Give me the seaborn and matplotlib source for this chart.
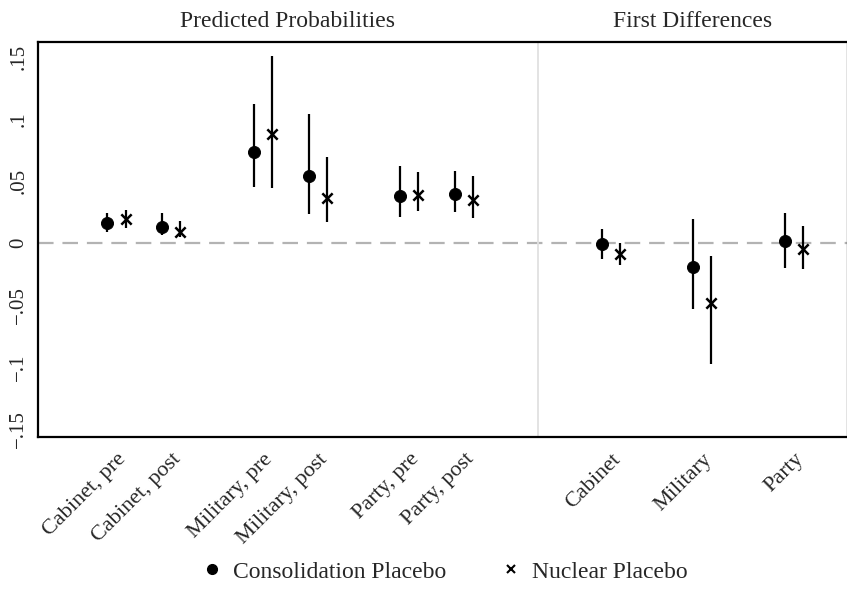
import numpy as np
import pandas as pd
import matplotlib
matplotlib.use("Agg")
import matplotlib.pyplot as plt
from matplotlib.lines import Line2D
import seaborn as sns

# --------------------------------------------------------------------------------
# Dados
# --------------------------------------------------------------------------------
pp_labels = ["Cabinet, pre", "Cabinet, post", "Military, pre",
             "Military, post", "Party, pre", "Party, post"]
fd_labels = ["Cabinet", "Military", "Party"]
series_names = ["Consolidation Placebo", "Nuclear Placebo"]

# 6 probabilidades previstas + 3 primeiras diferenças
cons_est = [0.0161, 0.0134, 0.0734, 0.0543, 0.0382, 0.0400, -0.0008, -0.0194, 0.0021]
cons_lo = [0.0089, 0.0067, 0.0452, 0.0234, 0.0215, 0.0255, -0.0127, -0.0530, -0.0197]
cons_hi = [0.0242, 0.0247, 0.1120, 0.1043, 0.0624, 0.0580, 0.0115, 0.0196, 0.0242]

nuc_est = [0.0194, 0.0094, 0.0879, 0.0368, 0.0387, 0.0347, -0.0086, -0.0484, -0.0048]
nuc_lo = [0.0121, 0.0048, 0.0446, 0.0175, 0.0260, 0.0202, -0.0172, -0.0973, -0.0207]
nuc_hi = [0.0269, 0.0182, 0.1513, 0.0699, 0.0578, 0.0545, 0.0000, -0.0102, 0.0140]

y_ticks = [-0.15, -0.1, -0.05, 0, 0.05, 0.1, 0.15]
y_ticklabels = ["\u2212.15", "\u2212.1", "\u2212.05", "0", ".05", ".1", ".15"]

# --------------------------------------------------------------------------------
# Layout das posições no eixo x
# --------------------------------------------------------------------------------
centers = [i // 2 * 8 + i % 2 * 3 + 0.5 for i in range(len(pp_labels))]
centers += [27.5 + j * 5 for j in range(len(fd_labels))]
labels = pp_labels + fd_labels
offsets = {"Consolidation Placebo": -0.5, "Nuclear Placebo": 0.5}

rows = []
for name, est, lo, hi in [("Consolidation Placebo", cons_est, cons_lo, cons_hi),
                          ("Nuclear Placebo", nuc_est, nuc_lo, nuc_hi)]:
    for k in range(len(labels)):
        rows.append({"label": labels[k], "series": name,
                     "x": centers[k] + offsets[name],
                     "est": est[k], "lo": lo[k], "hi": hi[k]})
df = pd.DataFrame(rows)

# --------------------------------------------------------------------------------
# Gráfico
# --------------------------------------------------------------------------------
sns.set_theme(style="white")
plt.rcParams["font.family"] = ["Liberation Serif", "DejaVu Serif"]
plt.rcParams["font.size"] = 14

fig = plt.figure(figsize=(8.47, 5.89), dpi=100)
ax = fig.add_axes([38 / 847, 1 - 437.3 / 589, 809.5 / 847, (437.3 - 41.7) / 589])

ax.axhline(0, color="#b3b3b3", lw=1.6, dashes=(7, 4), zorder=1)
ax.axvline(23.5, color="#e0e0e0", lw=1.3, zorder=1)

ax.vlines(df["x"], df["lo"], df["hi"], color="black", lw=1.6, zorder=2)

sns.scatterplot(data=df[df["series"] == "Consolidation Placebo"], x="x", y="est",
                marker="o", s=75, color="black", edgecolor="black", ax=ax,
                zorder=3, legend=False)
sns.scatterplot(data=df[df["series"] == "Nuclear Placebo"], x="x", y="est",
                marker="x", s=55, color="black", linewidth=1.8, ax=ax,
                zorder=3, legend=False)

ax.set_xlim(-3.78, 40.43)
ax.set_ylim(-0.1565, 0.1626)
ax.set_yticks(y_ticks)
ax.set_yticklabels(y_ticklabels, rotation=90, va="center", fontsize=15)
ax.set_xticks(centers)
ax.set_xticklabels(labels, rotation=45, ha="right", rotation_mode="anchor", fontsize=16)
ax.tick_params(axis="y", length=0, pad=7)
ax.tick_params(axis="x", length=0, pad=9)
ax.set_xlabel("")
ax.set_ylabel("")

for sp in ax.spines.values():
    sp.set_color("black")
    sp.set_linewidth(1.6)

ax.text(((-3.78 + 23.5) / 2), 1.025, "Predicted Probabilities", transform=ax.get_xaxis_transform(),
        ha="center", va="bottom", fontsize=17)
ax.text(((23.5 + 40.43) / 2), 1.025, "First Differences", transform=ax.get_xaxis_transform(),
        ha="center", va="bottom", fontsize=17)

handles = [Line2D([], [], marker="o", color="black", ls="", markersize=7),
           Line2D([], [], marker="x", color="black", ls="", markersize=6, mew=1.5)]
fig.legend(handles, series_names, loc="center", bbox_to_anchor=(0.524, 0.029), ncol=2,
           frameon=False, fontsize=17, handlelength=1.0, handletextpad=0.4,
           columnspacing=2.25, borderpad=0)

fig.savefig("out.png", dpi=100)
